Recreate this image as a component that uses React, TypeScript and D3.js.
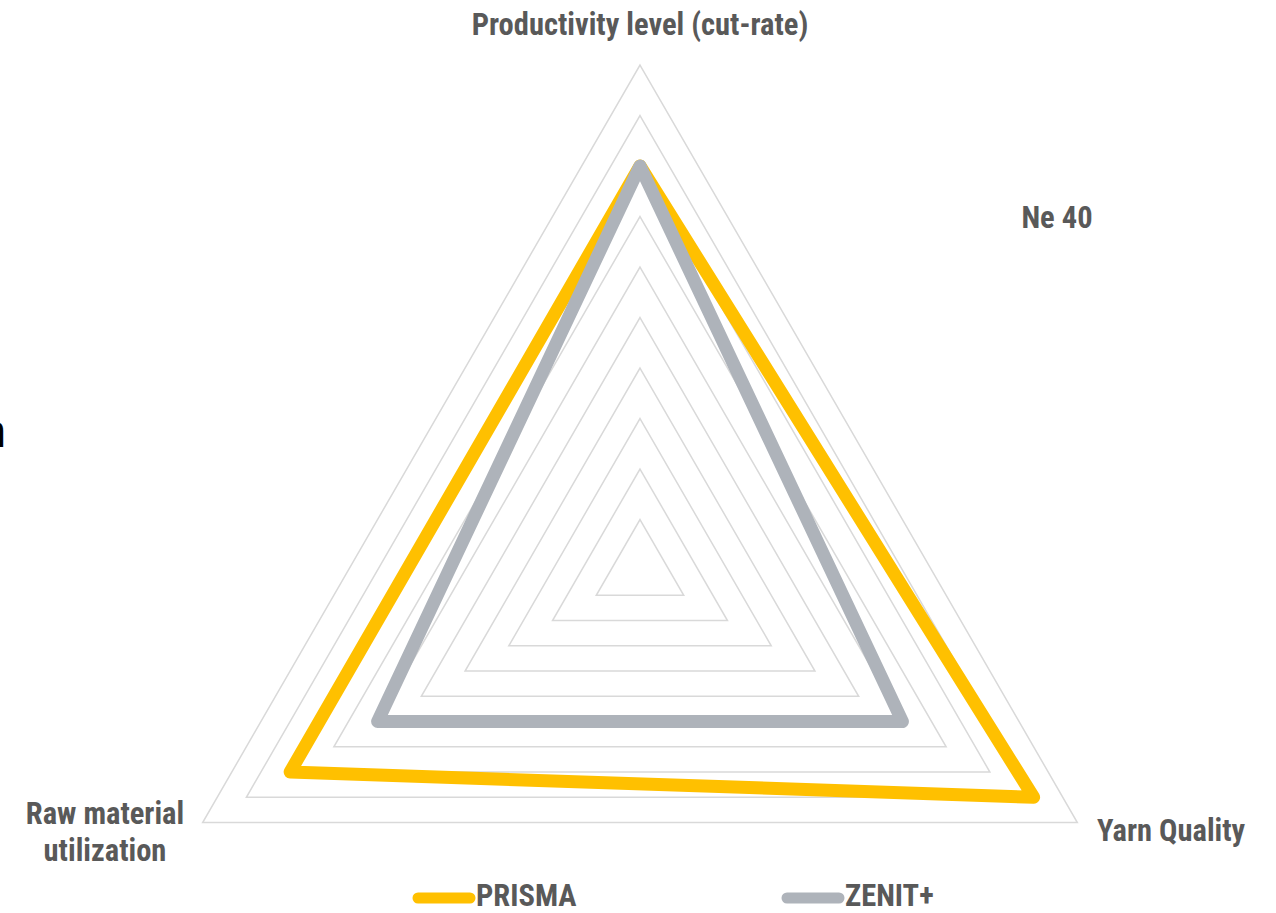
import React, { useEffect, useRef } from "react";
import * as d3 from "d3";

// axes, clockwise from top
const axes = ["Productivity level (cut-rate)", "Yarn Quality", "Raw material utilization"];
const prisma = [8, 9, 8];
const zenit = [8, 6, 6];
const levels = d3.range(1, 11);
const seriesNames = ["PRISMA", "ZENIT+"];
const seriesColors = ["#FFC000", "#AEB3BA"];

const FONT = "'Liberation Sans Narrow', 'Arial Narrow', 'Roboto Condensed', sans-serif";

export default function App() {
  const ref = useRef<SVGSVGElement>(null);

  useEffect(() => {
    const svg = d3.select(ref.current);
    svg.selectAll("*").remove();

    const cx = 640, cy = 570, R = 505;
    const r = d3.scaleLinear().domain([0, 10]).range([0, R]);
    const angle = (i: number) => -Math.PI / 2 + (i * 2 * Math.PI) / axes.length;
    const pt = (i: number, v: number): [number, number] => [
      cx + r(v) * Math.cos(angle(i)),
      cy + r(v) * Math.sin(angle(i)),
    ];
    const line = d3.line().curve(d3.curveLinearClosed);

    // grid
    svg.append("g")
      .selectAll("path")
      .data(levels)
      .join("path")
      .attr("d", l => line(axes.map((_, i) => pt(i, l))))
      .attr("fill", "none")
      .attr("stroke", "#D9D9D9")
      .attr("stroke-width", 1.5);

    // series
    [prisma, zenit].forEach((vals, s) => {
      svg.append("path")
        .attr("d", line(vals.map((v, i) => pt(i, v))))
        .attr("fill", "none")
        .attr("stroke", seriesColors[s])
        .attr("stroke-width", 13)
        .attr("stroke-linejoin", "round");
    });

    const txt = (x: number, y: number, t: string, anchor = "middle") =>
      svg.append("text")
        .attr("x", x).attr("y", y)
        .attr("text-anchor", anchor)
        .attr("font-family", FONT)
        .attr("font-weight", "bold")
        .attr("font-size", 30.5)
        .attr("fill", "#595959")
        .text(t);

    // axis labels
    txt(640, 35, axes[0]);
    txt(1097, 841, axes[1], "start");
    txt(105, 824, "Raw material");
    txt(105, 861, "utilization");

    // title
    txt(1057, 228, "Ne 40");

    // cut-off text at left edge
    svg.append("text")
      .attr("x", 6).attr("y", 447)
      .attr("text-anchor", "end")
      .attr("font-family", "Liberation Sans, Arial, sans-serif")
      .attr("font-size", 46)
      .attr("fill", "#000")
      .text("n");

    // legend
    const legX = [413, 782];
    seriesNames.forEach((name, s) => {
      svg.append("line")
        .attr("x1", legX[s] + 5).attr("x2", legX[s] + 57)
        .attr("y1", 898).attr("y2", 898)
        .attr("stroke", seriesColors[s])
        .attr("stroke-width", 11)
        .attr("stroke-linecap", "round");
      txt(legX[s] + 63, 906, name, "start");
    });
  }, []);

  return (
    <svg
      ref={ref}
      width={1276}
      height={913}
      style={{ position: "absolute", left: 0, top: 0, background: "#fff" }}
    />
  );
}
